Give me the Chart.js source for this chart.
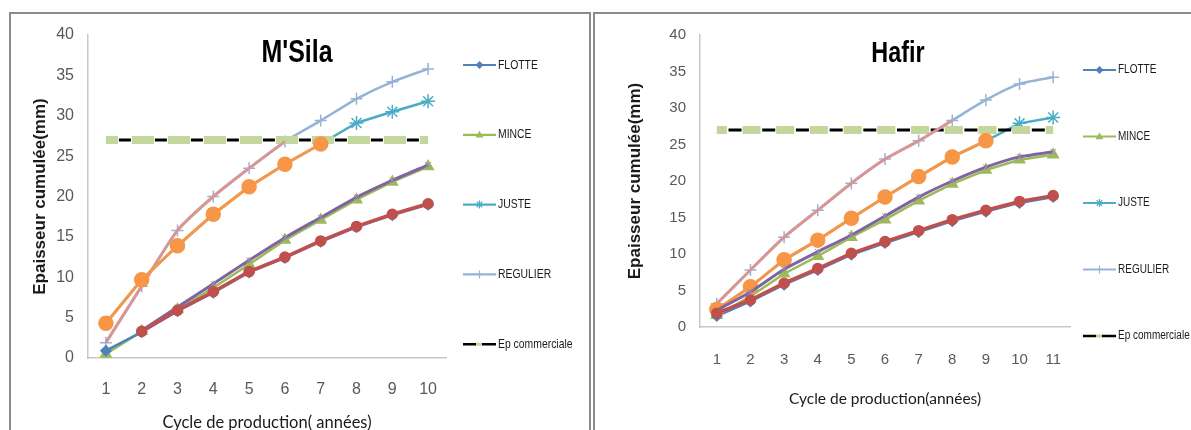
<!DOCTYPE html>
<html lang="fr">
<head>
<meta charset="utf-8">
<title>Epaisseur cumulée - M'Sila / Hafir</title>
<script src="https://cdn.jsdelivr.net/npm/chart.js@4.4.1/dist/chart.umd.min.js"></script>
<style>
  body { margin: 0; background: #fff; width: 1191px; height: 430px; overflow: hidden; position: relative; }
  .cadre { position: absolute; border: 2px solid #8c8c8c; box-sizing: border-box; }
  #cadre1 { left: 9px; top: 12px; width: 582px; height: 440px; }
  #cadre2 { left: 593px; top: 12px; width: 620px; height: 440px; }
  canvas { position: absolute; top: 0; }
  #msila { left: 0; }
  #hafir { left: 592px; }
</style>
</head>
<body>
<div class="cadre" id="cadre1"></div>
<div class="cadre" id="cadre2"></div>
<canvas id="msila" width="592" height="430"></canvas>
<canvas id="hafir" width="599" height="430"></canvas>

<script>
// Données M'Sila (cycles 1 à 10)
const msilaCycles = ["1", "2", "3", "4", "5", "6", "7", "8", "9", "10"];
const msilaFlotte = [0.9, 3.2, 5.8, 8.1, 10.6, 12.4, 14.4, 16.2, 17.7, 19.0];
const msilaMince = [0.5, 3.3, 6.0, 8.7, 11.6, 14.6, 17.1, 19.6, 21.8, 23.7];
const msilaJuste = [4.3, 9.7, 13.9, 17.8, 21.2, 24.0, 26.5, 29.1, 30.5, 31.8];
const msilaRegulier = [1.9, 8.9, 15.8, 20.0, 23.5, 26.8, 29.4, 32.1, 34.2, 35.8];
const msilaEp = [27, 27, 27, 27, 27, 27, 27, 27, 27, 27];
// séries superposées (hors légende)
const msilaRouge = [null, 3.3, 5.9, 8.2, 10.7, 12.5, 14.5, 16.3, 17.8, 19.1];
const msilaViolet = [null, 3.4, 6.3, 9.2, 12.1, 14.9, 17.4, 19.9, 22.0, 23.9];
const msilaOrange = [4.3, 9.7, 13.9, 17.8, 21.2, 24.0, 26.5, null, null, null];
const msilaRose = [1.9, 8.9, 15.8, 20.0, 23.5, 26.8, null, null, null, null];

// Données Hafir (cycles 1 à 11)
const hafirCycles = ["1", "2", "3", "4", "5", "6", "7", "8", "9", "10", "11"];
const hafirFlotte = [1.5, 3.5, 5.8, 7.8, 9.9, 11.5, 13.0, 14.5, 15.8, 17.0, 17.8];
const hafirMince = [1.6, 4.2, 7.3, 9.7, 12.3, 14.7, 17.3, 19.6, 21.5, 22.9, 23.6];
const hafirJuste = [2.4, 5.5, 9.2, 11.9, 14.9, 17.8, 20.6, 23.3, 25.5, 27.9, 28.7];
const hafirRegulier = [3.2, 7.8, 12.3, 16.0, 19.7, 23.0, 25.5, 28.3, 31.1, 33.3, 34.2];
const hafirEp = [27, 27, 27, 27, 27, 27, 27, 27, 27, 27, 27];
const hafirRouge = [1.9, 3.7, 6.0, 8.0, 10.1, 11.7, 13.2, 14.7, 16.0, 17.2, 18.0];
const hafirViolet = [2.3, 4.8, 7.9, 10.3, 12.6, 15.2, 17.8, 20.0, 21.9, 23.3, 24.0];
const hafirOrange = [2.4, 5.5, 9.2, 11.9, 14.9, 17.8, 20.6, 23.3, 25.5, null, null];
const hafirRose = [3.2, 7.8, 12.3, 16.0, 19.7, 23.0, 25.5, 28.3, null, null, null];

const yTicks = [0, 5, 10, 15, 20, 25, 30, 35, 40];
const legendeNoms = ["FLOTTE", "MINCE", "JUSTE", "REGULIER", "Ep commerciale"];

const SANS = "'Liberation Sans', Arial, sans-serif";
const LATO = "Lato, 'Liberation Sans', sans-serif";

// petit marqueur pour la légende
function dessinerMarqueur(ctx, style, x, y, r, couleur) {
  ctx.fillStyle = couleur;
  ctx.strokeStyle = couleur;
  ctx.lineWidth = 1.2;
  ctx.beginPath();
  if (style === "rectRot") {
    ctx.moveTo(x, y - r);
    ctx.lineTo(x + r, y);
    ctx.lineTo(x, y + r);
    ctx.lineTo(x - r, y);
    ctx.closePath();
    ctx.fill();
  } else if (style === "triangle") {
    ctx.moveTo(x, y - r);
    ctx.lineTo(x + r, y + r * 0.7);
    ctx.lineTo(x - r, y + r * 0.7);
    ctx.closePath();
    ctx.fill();
  } else if (style === "star") {
    for (let i = 0; i < 4; i++) {
      const a = (i * Math.PI) / 4;
      ctx.moveTo(x - r * Math.cos(a), y - r * Math.sin(a));
      ctx.lineTo(x + r * Math.cos(a), y + r * Math.sin(a));
    }
    ctx.stroke();
  } else if (style === "cross") {
    ctx.moveTo(x - r, y);
    ctx.lineTo(x + r, y);
    ctx.moveTo(x, y - r);
    ctx.lineTo(x, y + r);
    ctx.stroke();
  }
}

// texte resserré horizontalement (police étroite du document d'origine)
function texteEtroit(ctx, texte, x, y, echelle) {
  ctx.save();
  ctx.translate(x, y);
  ctx.scale(echelle, 1);
  ctx.fillText(texte, 0, 0);
  ctx.restore();
}

const titreGraphique = {
  id: "titreGraphique",
  afterDraw(chart, args, opts) {
    const ctx = chart.ctx;
    ctx.save();
    ctx.font = "bold " + opts.taille + "px " + SANS;
    ctx.fillStyle = "#000";
    ctx.textAlign = "center";
    ctx.textBaseline = "alphabetic";
    texteEtroit(ctx, opts.texte, opts.x, opts.y, 0.78);
    ctx.restore();
  },
};

const legendeLaterale = {
  id: "legendeLaterale",
  afterDraw(chart, args, opts) {
    const ctx = chart.ctx;
    ctx.save();
    legendeNoms.forEach((nom, i) => {
      const ds = chart.data.datasets.find((d) => d.label === nom);
      const y = opts.y + i * opts.pas;
      const x = opts.x;
      if (nom === "Ep commerciale") {
        ctx.lineWidth = 2.5;
        ctx.strokeStyle = "#000";
        ctx.beginPath();
        ctx.moveTo(x, y);
        ctx.lineTo(x + 13, y);
        ctx.moveTo(x + 19, y);
        ctx.lineTo(x + 33, y);
        ctx.stroke();
        ctx.strokeStyle = "#c3d69b";
        ctx.lineWidth = 3;
        ctx.beginPath();
        ctx.moveTo(x + 13, y);
        ctx.lineTo(x + 19, y);
        ctx.stroke();
      } else {
        ctx.strokeStyle = ds.borderColor;
        ctx.lineWidth = 2.2;
        ctx.beginPath();
        ctx.moveTo(x, y);
        ctx.lineTo(x + 33, y);
        ctx.stroke();
        dessinerMarqueur(ctx, ds.pointStyle, x + 16.5, y, 4, ds.borderColor);
      }
      ctx.font = opts.taille + "px " + SANS;
      ctx.fillStyle = "#1a1a1a";
      ctx.textBaseline = "middle";
      ctx.textAlign = "left";
      texteEtroit(ctx, nom, x + 35, y, 0.8);
    });
    ctx.restore();
  },
};

function serie(label, data, couleur, style, rayon, epaisseur, ordre, extra) {
  return Object.assign(
    {
      label: label,
      data: data,
      borderColor: couleur,
      backgroundColor: couleur,
      borderWidth: epaisseur,
      pointStyle: style,
      pointRadius: rayon,
      pointBorderColor: couleur,
      pointBackgroundColor: couleur,
      pointBorderWidth: 1.5,
      tension: 0,
      order: ordre,
    },
    extra || {}
  );
}

function creerGraphique(id, d, p) {
  const ctx = document.getElementById(id).getContext("2d");

  const datasets = [
    // séries superposées, dessinées au-dessus
    serie("rouge", d.rouge, "#c0504d", "circle", 5, 3.5, 0),
    serie("violet", d.violet, "#8064a2", "crossRot", 4, 3, 0, { tension: 0.2, pointBorderColor: "#a48fc4", pointBorderWidth: 1 }),
    serie("orange", d.orange, "#f79646", "circle", 7, 3, 0),
    serie("rose", d.rose, "#d99694", "circle", 0, 3, 0, { tension: 0.2 }),
    // épaisseur commerciale
    serie("Ep commerciale", d.ep, "#000", "circle", 0, 3, 1, { borderDash: p.tiretNoir, borderDashOffset: p.decalNoir }),
    serie("Ep commerciale (fond)", d.ep, "#c3d69b", "circle", 0, 8, 2, { borderDash: p.tiretVert, borderDashOffset: p.decalVert }),
    // séries de la légende
    serie("FLOTTE", d.flotte, "#4f81bd", "rectRot", 5, 2.5, 3),
    serie("MINCE", d.mince, "#9bbb59", "triangle", 6, 2.5, 3),
    serie("JUSTE", d.juste, "#4bacc6", "star", 7, 2.5, 3),
    serie("REGULIER", d.regulier, "#95b3d7", "cross", 6, 2.5, 3, { tension: 0.2 }),
  ];

  return new Chart(ctx, {
    type: "line",
    data: { labels: d.cycles, datasets: datasets },
    plugins: [titreGraphique, legendeLaterale],
    options: {
      responsive: false,
      animation: false,
      layout: { padding: { left: 0, top: 35, right: p.droite, bottom: 0 } },
      plugins: {
        legend: { display: false },
        tooltip: { enabled: false },
        titreGraphique: { texte: p.titre, x: p.titreX, y: 62, taille: p.titreTaille },
        legendeLaterale: { x: p.legX, y: p.legY, pas: p.legPas, taille: p.legTaille },
      },
      scales: {
        x: {
          offset: true,
          grid: { display: false, drawTicks: false, offset: true },
          border: { color: "#c8c8c8", width: 1.5 },
          ticks: { font: { family: SANS, size: p.tickTaille }, color: "#595959", padding: p.tickPadX },
          title: {
            display: true,
            text: p.titreAxeX,
            font: { family: LATO, size: p.titreXTaille },
            color: "#1a1a1a",
            padding: { top: 0, bottom: p.titreXBas },
          },
          afterFit(s) {
            s.height = p.hauteurX;
          },
        },
        y: {
          min: 0,
          max: 40,
          grid: { display: false, drawTicks: false },
          border: { color: "#c8c8c8", width: 1.5 },
          afterBuildTicks(s) {
            s.ticks = yTicks.map((v) => ({ value: v }));
          },
          ticks: { font: { family: SANS, size: p.tickTaille }, color: "#595959", padding: 14 },
          title: {
            display: true,
            text: "Epaisseur cumulée(mm)",
            font: { family: SANS, size: 17, weight: "bold" },
            color: "#1a1a1a",
            padding: { top: p.titreYHaut, bottom: 0 },
          },
          afterFit(s) {
            s.width = p.largeurY;
          },
        },
      },
    },
  });
}

creerGraphique(
  "msila",
  {
    cycles: msilaCycles, flotte: msilaFlotte, mince: msilaMince, juste: msilaJuste,
    regulier: msilaRegulier, ep: msilaEp, rouge: msilaRouge, violet: msilaViolet,
    orange: msilaOrange, rose: msilaRose,
  },
  {
    titre: "M'Sila", titreX: 297, titreTaille: 32,
    droite: 146, largeurY: 88, hauteurX: 72,
    tickTaille: 16, tickPadX: 22,
    titreAxeX: "Cycle de production( années)", titreXTaille: 16.5, titreXBas: -3,
    titreYHaut: 30,
    legX: 463, legY: 65, legPas: 69.8, legTaille: 13,
    tiretVert: [22, 14], decalVert: 10, tiretNoir: [12, 24], decalNoir: 23,
  }
);

creerGraphique(
  "hafir",
  {
    cycles: hafirCycles, flotte: hafirFlotte, mince: hafirMince, juste: hafirJuste,
    regulier: hafirRegulier, ep: hafirEp, rouge: hafirRouge, violet: hafirViolet,
    orange: hafirOrange, rose: hafirRose,
  },
  {
    titre: "Hafir", titreX: 306, titreTaille: 30,
    droite: 121, largeurY: 108, hauteurX: 103,
    tickTaille: 15, tickPadX: 24,
    titreAxeX: "Cycle de production(années)", titreXTaille: 15.5, titreXBas: 22,
    titreYHaut: 33,
    legX: 491, legY: 70, legPas: 66.5, legTaille: 12.5,
    tiretVert: [18, 15.7], decalVert: 8, tiretNoir: [13, 20.7], decalNoir: 22,
  }
);
</script>
</body>
</html>
